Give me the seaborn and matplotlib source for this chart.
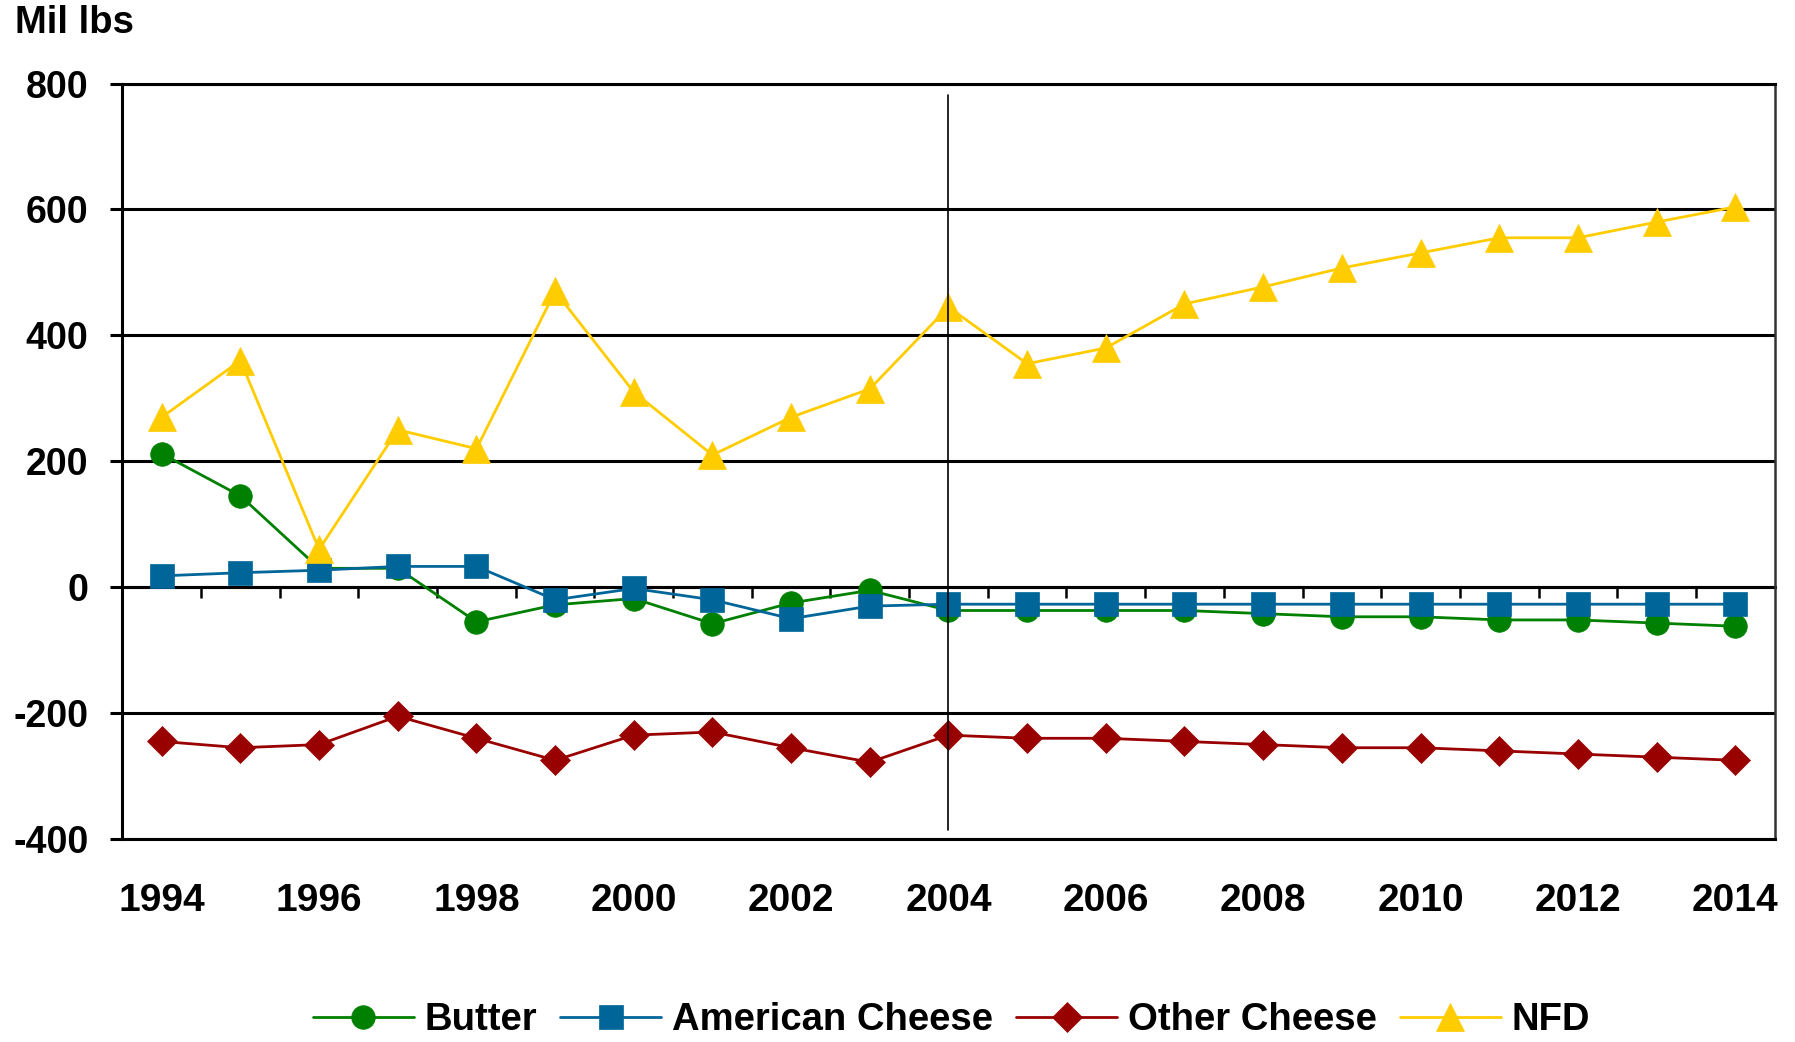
import numpy as np
import pandas as pd
import matplotlib
matplotlib.use("Agg")
import matplotlib.pyplot as plt
import seaborn as sns

# Net change by product, million pounds
years = list(range(1994, 2015))
butter = [212, 145, 30, 30, -55, -28, -18, -58, -25, -5, -37,
          -37, -37, -37, -42, -47, -47, -52, -52, -57, -62]
american_cheese = [18, 23, 27, 33, 33, -20, -2, -20, -50, -30, -27,
                   -27, -27, -27, -27, -27, -27, -27, -27, -27, -27]
other_cheese = [-245, -255, -250, -205, -240, -275, -235, -230, -255, -278, -235,
                -240, -240, -245, -250, -255, -255, -260, -265, -270, -275]
nfd = [270, 360, 60, 250, 220, 470, 310, 210, 270, 315, 445,
       355, 380, 450, 477, 507, 531, 555, 555, 580, 604]

series_names = ["Butter", "American Cheese", "Other Cheese", "NFD"]
series_values = [butter, american_cheese, other_cheese, nfd]
series_colors = ["#008000", "#006699", "#990000", "#FFCC00"]
series_markers = ["o", "s", "D", "^"]
marker_sizes = [17, 17, 15, 20]

y_ticks = [-400, -200, 0, 200, 400, 600, 800]
x_tick_years = list(range(1994, 2015, 2))

df = pd.DataFrame({"year": years})
for name, vals in zip(series_names, series_values):
    df[name] = vals

sns.set_theme(style="white")
plt.rcParams["font.family"] = ["Liberation Sans", "DejaVu Sans"]
plt.rcParams["font.weight"] = "bold"
plt.rcParams["text.color"] = "black"
plt.rcParams["axes.labelcolor"] = "black"
plt.rcParams["xtick.color"] = "black"
plt.rcParams["ytick.color"] = "black"
plt.rcParams["axes.unicode_minus"] = False

fig = plt.figure(figsize=(17.95, 10.42), dpi=100)
ax = fig.add_axes([0.0682, 0.1948, 0.9204, 0.725])

handles = []
for i, (name, color, mk, ms) in enumerate(zip(series_names, series_colors,
                                               series_markers, marker_sizes)):
    sns.lineplot(data=df, x="year", y=name, ax=ax, color=color, marker=mk,
                 markersize=ms, markeredgecolor=color, markeredgewidth=0.5,
                 linewidth=2.0, zorder=3 + i, label=name, legend=False)
    handles.append(ax.lines[-1])

ax.set_xlim(1993.5, 2014.5)
ax.set_ylim(-400, 800)
ax.set_xlabel("")
ax.set_ylabel("")

# horizontal gridlines
ax.set_yticks(y_ticks)
ax.yaxis.grid(True, color="black", linewidth=2.2, zorder=1)
ax.set_axisbelow(True)
ax.tick_params(axis="y", direction="out", length=8.6, width=2.2, colors="black",
               labelsize=27, pad=16, left=True)

ax.set_xticks(x_tick_years)
ax.set_xticklabels([str(y) for y in x_tick_years])
ax.tick_params(axis="x", length=0, labelsize=28, pad=32, colors="black")
for lab in ax.get_xticklabels() + ax.get_yticklabels():
    lab.set_fontweight("bold")

for side in ["left", "top", "bottom"]:
    ax.spines[side].set_color("black")
    ax.spines[side].set_linewidth(2.2)
ax.spines["right"].set_color("#333333")
ax.spines["right"].set_linewidth(1.8)

# category tick marks along the zero line
sec = ax.secondary_xaxis(1 / 3)
sec.set_xticks(np.arange(1994.5, 2014.0, 1.0))
sec.tick_params(axis="x", direction="out", length=8, width=1.8, color="black",
                labelbottom=False, labeltop=False)
for s in sec.spines.values():
    s.set_color("black")
    s.set_linewidth(2.2)

# reference line at 2004
ax.axvline(2004, ymin=0.0125, ymax=0.985, color="black", linewidth=1.2, zorder=10)

fig.text(15 / 1795, 1 - 33 / 1042, "Mil lbs", ha="left", va="baseline",
         fontsize=27.5, fontweight="bold", color="black")

fig.legend(handles, series_names, loc="center", bbox_to_anchor=(0.530, 1 - 1020 / 1042),
           ncol=4, frameon=False, prop={"size": 27.5, "weight": "bold"},
           handlelength=2.65, handletextpad=0.28, columnspacing=0.6, borderaxespad=0)

fig.savefig("out.png", dpi=100, facecolor="white")
